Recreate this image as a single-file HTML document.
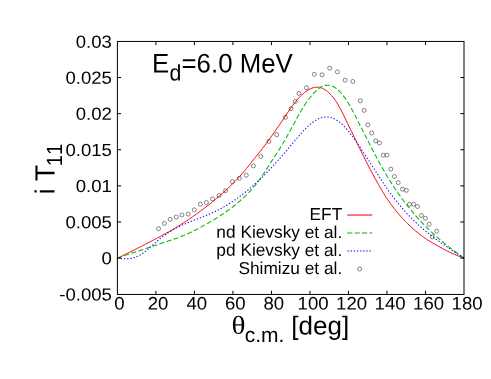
<!DOCTYPE html>
<html><head><meta charset="utf-8"><title>plot</title>
<style>
html,body{margin:0;padding:0;background:#fff;}
body{width:491px;height:379px;overflow:hidden;}
svg{display:block;will-change:transform;}
text{font-family:"Liberation Sans",sans-serif;fill:#000;font-kerning:none;text-rendering:geometricPrecision;}
.txt{filter:grayscale(1);}
.tk{font-size:17.6px;}
.lg{font-size:17.3px;}
.sf{font-family:"Liberation Serif",serif;}
.sub{font-size:21px;}
</style></head><body>
<svg width="491" height="379" viewBox="0 0 491 379">
<rect x="0" y="0" width="491" height="379" fill="#fff"/>
<g fill="none" stroke-width="0.98" stroke-linejoin="round">
<path d="M117.40,258.20 L118.74,257.55 L120.08,256.91 L121.41,256.26 L122.75,255.61 L124.09,254.96 L125.43,254.30 L126.77,253.64 L128.11,252.99 L129.44,252.33 L130.78,251.66 L132.12,251.00 L133.46,250.33 L134.80,249.66 L136.14,248.99 L137.47,248.31 L138.81,247.64 L140.15,246.96 L141.49,246.28 L142.83,245.59 L144.16,244.91 L145.50,244.22 L146.84,243.52 L148.18,242.83 L149.52,242.13 L150.86,241.43 L152.19,240.73 L153.53,240.02 L154.87,239.31 L156.21,238.60 L157.55,237.88 L158.88,237.16 L160.22,236.44 L161.56,235.72 L162.90,234.99 L164.24,234.25 L165.58,233.51 L166.91,232.77 L168.25,232.02 L169.59,231.26 L170.93,230.50 L172.27,229.73 L173.61,228.95 L174.94,228.16 L176.28,227.37 L177.62,226.56 L178.96,225.75 L180.30,224.92 L181.63,224.09 L182.97,223.24 L184.31,222.38 L185.65,221.51 L186.99,220.63 L188.33,219.74 L189.66,218.83 L191.00,217.91 L192.34,216.98 L193.68,216.03 L195.02,215.08 L196.36,214.11 L197.69,213.13 L199.03,212.14 L200.38,211.14 L201.75,210.12 L203.12,209.10 L204.49,208.06 L205.86,207.01 L207.23,205.95 L208.60,204.88 L209.97,203.80 L211.34,202.71 L212.71,201.60 L214.08,200.49 L215.45,199.36 L216.82,198.23 L218.19,197.08 L219.56,195.92 L220.93,194.74 L222.30,193.55 L223.67,192.35 L225.04,191.13 L226.39,189.89 L227.73,188.63 L229.06,187.36 L230.39,186.07 L231.72,184.75 L233.06,183.42 L234.39,182.06 L235.72,180.68 L237.06,179.28 L238.39,177.85 L239.72,176.40 L241.05,174.93 L242.39,173.42 L243.72,171.87 L245.05,170.29 L246.39,168.66 L247.72,167.00 L249.05,165.32 L250.38,163.63 L251.72,161.93 L253.05,160.25 L254.38,158.57 L255.72,156.91 L257.05,155.25 L258.38,153.59 L259.71,151.92 L261.05,150.24 L262.38,148.54 L263.71,146.82 L265.05,145.07 L266.38,143.30 L267.71,141.50 L269.04,139.68 L270.38,137.83 L271.71,135.96 L273.04,134.07 L274.38,132.15 L275.72,130.21 L277.11,128.25 L278.50,126.26 L279.89,124.25 L281.28,122.21 L282.67,120.16 L284.06,118.08 L285.45,115.99 L286.84,113.91 L288.23,111.85 L289.60,109.83 L290.97,107.86 L292.33,105.95 L293.69,104.11 L295.05,102.35 L296.41,100.67 L297.78,99.08 L299.14,97.58 L300.50,96.18 L301.86,94.86 L303.22,93.64 L304.59,92.50 L305.95,91.46 L307.33,90.51 L308.72,89.67 L310.12,88.94 L311.51,88.32 L312.90,87.82 L314.29,87.46 L315.68,87.23 L317.05,87.14 L318.36,87.20 L319.67,87.41 L320.98,87.76 L322.29,88.25 L323.61,88.88 L324.92,89.65 L326.23,90.55 L327.54,91.59 L328.85,92.76 L330.16,94.06 L331.47,95.48 L332.79,97.03 L334.10,98.70 L335.41,100.49 L336.68,102.40 L337.90,104.42 L339.11,106.54 L340.33,108.76 L341.54,111.07 L342.76,113.45 L343.97,115.90 L345.18,118.41 L346.40,120.97 L347.61,123.57 L348.91,126.22 L350.25,128.91 L351.59,131.62 L352.93,134.36 L354.27,137.12 L355.60,139.88 L356.94,142.65 L358.28,145.42 L359.62,148.18 L360.96,150.94 L362.29,153.67 L363.63,156.39 L364.97,159.08 L366.31,161.74 L367.65,164.37 L368.99,166.96 L370.32,169.53 L371.66,172.07 L373.00,174.59 L374.34,177.08 L375.68,179.54 L377.02,181.97 L378.35,184.35 L379.69,186.70 L381.03,189.00 L382.37,191.24 L383.71,193.43 L385.04,195.56 L386.38,197.62 L387.72,199.63 L389.06,201.57 L390.40,203.46 L391.74,205.29 L393.07,207.08 L394.41,208.81 L395.75,210.49 L397.09,212.13 L398.43,213.72 L399.77,215.27 L401.10,216.78 L402.44,218.25 L403.78,219.69 L405.12,221.10 L406.46,222.47 L407.79,223.81 L409.13,225.11 L410.47,226.38 L411.81,227.62 L413.15,228.81 L414.49,229.97 L415.82,231.13 L417.16,232.27 L418.50,233.36 L419.84,234.42 L421.18,235.44 L422.52,236.43 L423.85,237.38 L425.19,238.31 L426.53,239.21 L427.87,240.09 L429.21,240.94 L430.54,241.77 L431.88,242.54 L433.22,243.31 L434.56,244.07 L435.90,244.82 L437.24,245.57 L438.57,246.31 L439.91,247.06 L441.25,247.81 L442.59,248.55 L443.93,249.30 L445.26,250.02 L446.60,250.68 L447.94,251.34 L449.28,251.98 L450.62,252.61 L451.96,253.23 L453.29,253.84 L454.63,254.43 L455.97,255.00 L457.31,255.55 L458.65,256.08 L459.99,256.59 L461.32,257.14 L462.66,257.66 L464.00,258.15" stroke="#ff0000"/>
<path d="M117.40,258.19 L118.74,257.70 L120.08,257.22 L121.41,256.74 L122.75,256.27 L124.09,255.80 L125.43,255.33 L126.77,254.87 L128.11,254.41 L129.44,253.96 L130.78,253.50 L132.12,253.05 L133.46,252.61 L134.80,252.16 L136.14,251.72 L137.47,251.27 L138.81,250.83 L140.15,250.39 L141.49,249.95 L142.83,249.51 L144.16,249.07 L145.50,248.63 L146.84,248.19 L148.18,247.75 L149.52,247.31 L150.86,246.87 L152.19,246.42 L153.53,245.97 L154.87,245.53 L156.21,245.08 L157.55,244.62 L158.88,244.17 L160.22,243.71 L161.56,243.25 L162.90,242.78 L164.24,242.31 L165.58,241.86 L166.91,241.45 L168.25,241.03 L169.59,240.60 L170.93,240.17 L172.27,239.73 L173.61,239.29 L174.94,238.84 L176.28,238.39 L177.62,237.93 L178.96,237.41 L180.30,236.88 L181.63,236.33 L182.97,235.78 L184.31,235.22 L185.65,234.66 L186.99,234.08 L188.33,233.50 L189.66,232.90 L191.00,232.30 L192.34,231.67 L193.68,230.99 L195.02,230.30 L196.36,229.59 L197.69,228.88 L199.03,228.16 L200.37,227.42 L201.71,226.67 L203.05,225.92 L204.38,225.15 L205.72,224.40 L207.06,223.66 L208.40,222.92 L209.74,222.16 L211.08,221.39 L212.41,220.61 L213.75,219.81 L215.09,219.00 L216.43,218.17 L217.77,217.33 L219.11,216.47 L220.44,215.60 L221.78,214.72 L223.12,213.82 L224.46,212.90 L225.80,211.97 L227.13,211.02 L228.47,210.05 L229.81,209.07 L231.15,208.07 L232.49,207.05 L233.83,206.01 L235.16,204.96 L236.50,203.87 L237.84,202.77 L239.18,201.63 L240.52,200.47 L241.85,199.27 L243.19,198.04 L244.53,196.78 L245.87,195.48 L247.21,194.14 L248.55,192.75 L249.88,191.33 L251.22,189.86 L252.56,188.34 L253.90,186.77 L255.24,185.15 L256.58,183.48 L257.91,181.76 L259.25,179.97 L260.59,178.13 L261.93,176.22 L263.27,174.26 L264.60,172.25 L265.94,170.20 L267.28,168.13 L268.62,166.03 L269.96,163.93 L271.30,161.82 L272.63,159.73 L273.97,157.66 L275.31,155.60 L276.65,153.54 L277.99,151.46 L279.33,149.36 L280.66,147.23 L282.00,145.04 L283.34,142.80 L284.68,140.50 L286.02,138.14 L287.35,135.75 L288.69,133.32 L290.03,130.86 L291.37,128.39 L292.71,125.91 L294.05,123.42 L295.38,120.95 L296.72,118.49 L298.06,116.06 L299.40,113.67 L300.78,111.31 L302.20,109.00 L303.62,106.76 L305.04,104.58 L306.45,102.48 L307.87,100.46 L309.29,98.53 L310.71,96.70 L312.13,94.99 L313.55,93.39 L314.97,91.92 L316.36,90.58 L317.69,89.39 L319.02,88.34 L320.36,87.45 L321.69,86.70 L323.02,86.11 L324.36,85.66 L325.69,85.37 L327.03,85.23 L328.36,85.24 L329.69,85.40 L331.03,85.72 L332.36,86.19 L333.69,86.82 L335.03,87.60 L336.36,88.53 L337.70,89.62 L339.03,90.86 L340.36,92.23 L341.70,93.74 L343.03,95.37 L344.36,97.12 L345.70,98.97 L346.96,100.93 L348.22,102.98 L349.47,105.12 L350.73,107.34 L351.98,109.62 L353.24,111.97 L354.50,114.38 L355.75,116.84 L357.01,119.34 L358.28,121.89 L359.62,124.46 L360.96,127.06 L362.29,129.68 L363.63,132.32 L364.97,134.96 L366.31,137.61 L367.65,140.25 L368.99,142.88 L370.32,145.50 L371.66,148.10 L373.00,150.69 L374.34,153.25 L375.68,155.78 L377.02,158.29 L378.35,160.78 L379.69,163.23 L381.03,165.65 L382.37,168.03 L383.71,170.38 L385.04,172.69 L386.38,174.96 L387.72,177.18 L389.06,179.37 L390.40,181.52 L391.74,183.63 L393.07,185.71 L394.41,187.75 L395.75,189.75 L397.09,191.71 L398.43,193.65 L399.77,195.54 L401.10,197.41 L402.44,199.24 L403.78,201.04 L405.12,202.80 L406.46,204.54 L407.79,206.24 L409.13,207.92 L410.47,209.56 L411.81,211.18 L413.15,212.76 L414.49,214.32 L415.82,215.86 L417.16,217.36 L418.50,218.85 L419.84,220.30 L421.18,221.73 L422.52,223.14 L423.85,224.52 L425.19,225.88 L426.53,227.22 L427.87,228.54 L429.21,229.83 L430.54,231.11 L431.88,232.37 L433.22,233.60 L434.56,234.82 L435.90,236.02 L437.24,237.20 L438.57,238.37 L439.91,239.52 L441.25,240.65 L442.59,241.77 L443.93,242.88 L445.26,243.97 L446.60,245.05 L447.94,246.12 L449.28,247.17 L450.62,248.21 L451.96,249.24 L453.29,250.27 L454.63,251.28 L455.97,252.28 L457.31,253.28 L458.65,254.26 L459.99,255.24 L461.32,256.22 L462.66,257.19 L464.00,258.15" stroke="#00b800" stroke-width="1.04" stroke-dasharray="5.0 2.4"/>
<path d="M117.40,258.14 L118.74,258.32 L120.08,258.48 L121.41,258.61 L122.75,258.70 L124.09,258.76 L125.43,258.78 L126.77,258.76 L128.11,258.68 L129.44,258.55 L130.78,258.36 L132.12,258.10 L133.46,257.78 L134.80,257.38 L136.14,256.90 L137.47,256.35 L138.81,255.70 L140.15,254.97 L141.49,254.15 L142.83,253.25 L144.16,252.28 L145.50,251.25 L146.84,250.17 L148.18,249.04 L149.52,247.89 L150.86,246.70 L152.19,245.51 L153.53,244.30 L154.87,243.10 L156.21,241.92 L157.55,240.75 L158.88,239.61 L160.22,238.51 L161.56,237.46 L162.90,236.44 L164.24,235.46 L165.58,234.51 L166.91,233.60 L168.25,232.72 L169.59,231.87 L170.93,231.06 L172.27,230.27 L173.61,229.51 L174.94,228.78 L176.28,228.06 L177.62,227.38 L178.96,226.71 L180.30,226.07 L181.63,225.44 L182.97,224.83 L184.31,224.23 L185.65,223.65 L186.99,223.08 L188.33,222.53 L189.66,221.98 L191.00,221.44 L192.34,220.91 L193.68,220.38 L195.02,219.86 L196.36,219.34 L197.69,218.82 L199.03,218.30 L200.37,217.78 L201.71,217.26 L203.05,216.73 L204.38,216.19 L205.72,215.65 L207.06,215.10 L208.40,214.54 L209.74,213.96 L211.08,213.37 L212.41,212.77 L213.75,212.15 L215.09,211.51 L216.43,210.86 L217.77,210.18 L219.11,209.49 L220.44,208.78 L221.78,208.05 L223.12,207.31 L224.46,206.54 L225.80,205.76 L227.13,204.96 L228.47,204.13 L229.81,203.29 L231.15,202.44 L232.49,201.56 L233.83,200.66 L235.16,199.75 L236.50,198.82 L237.84,197.86 L239.18,196.89 L240.52,195.90 L241.85,194.89 L243.19,193.86 L244.53,192.81 L245.87,191.75 L247.21,190.66 L248.55,189.56 L249.88,188.43 L251.22,187.29 L252.56,186.12 L253.90,184.94 L255.24,183.74 L256.58,182.51 L257.91,181.27 L259.25,180.01 L260.59,178.73 L261.93,177.43 L263.27,176.11 L264.60,174.77 L265.94,173.42 L267.28,172.05 L268.62,170.66 L269.96,169.26 L271.30,167.84 L272.63,166.40 L273.97,164.95 L275.31,163.49 L276.65,162.01 L277.99,160.52 L279.33,159.01 L280.66,157.49 L282.00,155.96 L283.34,154.42 L284.68,152.87 L286.02,151.30 L287.35,149.73 L288.69,148.14 L290.03,146.54 L291.37,144.94 L292.71,143.33 L294.05,141.72 L295.38,140.11 L296.72,138.52 L298.06,136.94 L299.40,135.38 L300.74,133.85 L302.07,132.35 L303.41,130.90 L304.75,129.48 L306.09,128.12 L307.43,126.81 L308.77,125.56 L310.10,124.38 L311.44,123.27 L312.78,122.24 L314.12,121.29 L315.46,120.43 L316.80,119.66 L318.13,118.98 L319.47,118.39 L320.81,117.90 L322.15,117.50 L323.49,117.21 L324.82,117.01 L326.16,116.93 L327.50,116.95 L328.84,117.08 L330.18,117.32 L331.52,117.67 L332.85,118.14 L334.19,118.72 L335.53,119.42 L336.87,120.22 L338.21,121.13 L339.55,122.14 L340.88,123.26 L342.22,124.47 L343.56,125.78 L344.90,127.17 L346.24,128.65 L347.57,130.21 L348.91,131.83 L350.25,133.53 L351.59,135.27 L352.93,137.08 L354.27,138.92 L355.60,140.81 L356.94,142.73 L358.28,144.68 L359.62,146.66 L360.96,148.66 L362.29,150.67 L363.63,152.70 L364.97,154.75 L366.31,156.81 L367.65,158.88 L368.99,160.96 L370.32,163.04 L371.66,165.13 L373.00,167.22 L374.34,169.30 L375.68,171.38 L377.02,173.45 L378.35,175.51 L379.69,177.56 L381.03,179.60 L382.37,181.62 L383.71,183.62 L385.04,185.59 L386.38,187.55 L387.72,189.48 L389.06,191.37 L390.40,193.24 L391.74,195.07 L393.07,196.87 L394.41,198.63 L395.75,200.35 L397.09,202.04 L398.43,203.70 L399.77,205.32 L401.10,206.90 L402.44,208.46 L403.78,209.98 L405.12,211.48 L406.46,212.94 L407.79,214.37 L409.13,215.78 L410.47,217.16 L411.81,218.51 L413.15,219.83 L414.49,221.13 L415.82,222.41 L417.16,223.66 L418.50,224.89 L419.84,226.09 L421.18,227.27 L422.52,228.44 L423.85,229.58 L425.19,230.70 L426.53,231.80 L427.87,232.89 L429.21,233.96 L430.54,235.01 L431.88,236.05 L433.22,237.07 L434.56,238.08 L435.90,239.07 L437.24,240.05 L438.57,241.02 L439.91,241.98 L441.25,242.92 L442.59,243.86 L443.93,244.79 L445.26,245.71 L446.60,246.62 L447.94,247.53 L449.28,248.43 L450.62,249.33 L451.96,250.22 L453.29,251.10 L454.63,251.99 L455.97,252.87 L457.31,253.75 L458.65,254.63 L459.99,255.51 L461.32,256.39 L462.66,257.27 L464.00,258.15" stroke="#1010ff" stroke-width="1.05" stroke-dasharray="1.35 1.9"/>
</g>
<g fill="none" stroke="#111" stroke-width="0.5">
<circle cx="158.60" cy="228.70" r="2.0"/>
<circle cx="164.35" cy="223.40" r="2.0"/>
<circle cx="170.15" cy="219.30" r="2.0"/>
<circle cx="176.25" cy="217.05" r="2.0"/>
<circle cx="181.90" cy="215.00" r="2.0"/>
<circle cx="188.20" cy="214.15" r="2.0"/>
<circle cx="194.30" cy="209.85" r="2.0"/>
<circle cx="200.40" cy="204.15" r="2.0"/>
<circle cx="206.40" cy="202.55" r="2.0"/>
<circle cx="212.60" cy="198.90" r="2.0"/>
<circle cx="219.10" cy="195.40" r="2.0"/>
<circle cx="225.50" cy="190.75" r="2.0"/>
<circle cx="232.40" cy="181.60" r="2.0"/>
<circle cx="239.35" cy="178.25" r="2.0"/>
<circle cx="246.25" cy="175.25" r="2.0"/>
<circle cx="253.40" cy="165.90" r="2.0"/>
<circle cx="260.75" cy="156.45" r="2.0"/>
<circle cx="268.90" cy="141.40" r="2.0"/>
<circle cx="276.75" cy="134.70" r="2.0"/>
<circle cx="285.45" cy="117.25" r="2.0"/>
<circle cx="291.00" cy="108.70" r="2.0"/>
<circle cx="295.20" cy="101.45" r="2.0"/>
<circle cx="298.95" cy="93.40" r="2.0"/>
<circle cx="306.50" cy="87.70" r="2.0"/>
<circle cx="314.30" cy="74.30" r="2.0"/>
<circle cx="322.05" cy="74.80" r="2.0"/>
<circle cx="329.65" cy="68.20" r="2.0"/>
<circle cx="337.40" cy="71.90" r="2.0"/>
<circle cx="345.05" cy="80.20" r="2.0"/>
<circle cx="352.80" cy="81.45" r="2.0"/>
<circle cx="360.35" cy="100.75" r="2.0"/>
<circle cx="364.15" cy="110.40" r="2.0"/>
<circle cx="367.85" cy="124.85" r="2.0"/>
<circle cx="371.70" cy="132.95" r="2.0"/>
<circle cx="375.65" cy="140.90" r="2.0"/>
<circle cx="379.45" cy="143.00" r="2.0"/>
<circle cx="383.25" cy="155.20" r="2.0"/>
<circle cx="387.00" cy="155.20" r="2.0"/>
<circle cx="390.80" cy="169.10" r="2.0"/>
<circle cx="394.45" cy="176.50" r="2.0"/>
<circle cx="398.20" cy="182.60" r="2.0"/>
<circle cx="402.50" cy="189.20" r="2.0"/>
<circle cx="406.30" cy="190.30" r="2.0"/>
<circle cx="409.45" cy="204.30" r="2.0"/>
<circle cx="413.60" cy="204.30" r="2.0"/>
<circle cx="417.45" cy="206.50" r="2.0"/>
<circle cx="421.40" cy="215.40" r="2.0"/>
<circle cx="425.40" cy="218.20" r="2.0"/>
<circle cx="429.20" cy="224.20" r="2.0"/>
<circle cx="436.70" cy="231.25" r="2.0"/>
<circle cx="432.35" cy="237.00" r="2.0"/>
</g>
<g fill="none" stroke="#000" stroke-width="1">
<rect x="117.4" y="41.45" width="346.6" height="253.00"/>
<path d="M155.91,294.45v-3.7M155.91,41.45v3.7M194.42,294.45v-3.7M194.42,41.45v3.7M232.93,294.45v-3.7M232.93,41.45v3.7M271.44,294.45v-3.7M271.44,41.45v3.7M309.96,294.45v-3.7M309.96,41.45v3.7M348.47,294.45v-3.7M348.47,41.45v3.7M386.98,294.45v-3.7M386.98,41.45v3.7M425.49,294.45v-3.7M425.49,41.45v3.7M117.4,258.09h3.7M464.0,258.09h-3.7M117.4,221.99h3.7M464.0,221.99h-3.7M117.4,185.88h3.7M464.0,185.88h-3.7M117.4,149.77h3.7M464.0,149.77h-3.7M117.4,113.66h3.7M464.0,113.66h-3.7M117.4,77.56h3.7M464.0,77.56h-3.7"/>
</g>
<g class="txt">
<text class="tk" transform="translate(111.9,300.40) rotate(0.03) scale(1.055,1)" text-anchor="end">-0.005</text>
<text class="tk" transform="translate(111.9,264.29) rotate(0.03) scale(1.055,1)" text-anchor="end">0</text>
<text class="tk" transform="translate(111.9,228.19) rotate(0.03) scale(1.055,1)" text-anchor="end">0.005</text>
<text class="tk" transform="translate(111.9,192.08) rotate(0.03) scale(1.055,1)" text-anchor="end">0.01</text>
<text class="tk" transform="translate(111.9,155.97) rotate(0.03) scale(1.055,1)" text-anchor="end">0.015</text>
<text class="tk" transform="translate(111.9,119.86) rotate(0.03) scale(1.055,1)" text-anchor="end">0.02</text>
<text class="tk" transform="translate(111.9,83.76) rotate(0.03) scale(1.055,1)" text-anchor="end">0.025</text>
<text class="tk" transform="translate(111.9,47.65) rotate(0.03) scale(1.055,1)" text-anchor="end">0.03</text>
<text class="tk" transform="translate(119.50,309.6) rotate(0.03) scale(1.055,1.03)" text-anchor="middle">0</text>
<text class="tk" transform="translate(158.01,309.6) rotate(0.03) scale(1.055,1.03)" text-anchor="middle">20</text>
<text class="tk" transform="translate(196.82,309.6) rotate(0.03) scale(1.055,1.03)" text-anchor="middle">40</text>
<text class="tk" transform="translate(235.33,309.6) rotate(0.03) scale(1.055,1.03)" text-anchor="middle">60</text>
<text class="tk" transform="translate(273.84,309.6) rotate(0.03) scale(1.055,1.03)" text-anchor="middle">80</text>
<text class="tk" transform="translate(313.06,309.6) rotate(0.03) scale(1.055,1.03)" text-anchor="middle">100</text>
<text class="tk" transform="translate(351.57,309.6) rotate(0.03) scale(1.055,1.03)" text-anchor="middle">120</text>
<text class="tk" transform="translate(390.08,309.6) rotate(0.03) scale(1.055,1.03)" text-anchor="middle">140</text>
<text class="tk" transform="translate(428.59,309.6) rotate(0.03) scale(1.055,1.03)" text-anchor="middle">160</text>
<text class="tk" transform="translate(467.10,309.6) rotate(0.03) scale(1.055,1.03)" text-anchor="middle">180</text>
<text transform="translate(152.00,72.50) rotate(0.03) scale(1,1.045)" font-size="25.8px">E</text>
<text transform="translate(169.51,80.60) rotate(0.03) scale(1,1.06)" font-size="21.3px">d</text>
<text transform="translate(181.55,72.50) rotate(0.03) scale(1,1.045)" font-size="25.8px">=6.0 MeV</text>
<text transform="translate(54.50,194.20) rotate(-89.97) scale(1,1.06)" font-size="26.2px">i T</text>
<text transform="translate(61.90,166.37) rotate(-89.97) scale(0.97,1.05)" font-size="21px">11</text>
<text transform="translate(231.40,333.80) rotate(0.03) scale(1.13,1)" font-size="25.8px" class="sf">θ</text>
<text transform="translate(244.76,342.10) rotate(0.03) scale(1,1)" font-size="21px">c.m.</text>
<text transform="translate(291.35,334.50) rotate(0.03) scale(1,1)" font-size="26px">[deg]</text>
<text class="lg" transform="translate(342.2,220.0) rotate(0.03)" text-anchor="end">EFT</text>
<text class="lg" transform="translate(342.2,237.9) rotate(0.03)" text-anchor="end">nd Kievsky et al.</text>
<text class="lg" transform="translate(342.2,255.9) rotate(0.03)" text-anchor="end">pd Kievsky et al.</text>
<text class="lg" transform="translate(342.2,274.1) rotate(0.03)" text-anchor="end">Shimizu et al.</text>
</g>
<g fill="none" stroke-width="1.05">
<path d="M347.2,215.05H372.2" stroke="#ff0000"/>
<path d="M347.2,233.0H372.2" stroke="#00b800" stroke-dasharray="5.25 2.1"/>
<path d="M347.5,251.0H372.2" stroke="#0000ff" stroke-dasharray="1.4 1.73"/>
</g>
<circle cx="359.6" cy="269.0" r="2.0" fill="none" stroke="#111" stroke-width="0.5"/>
</svg></body></html>
